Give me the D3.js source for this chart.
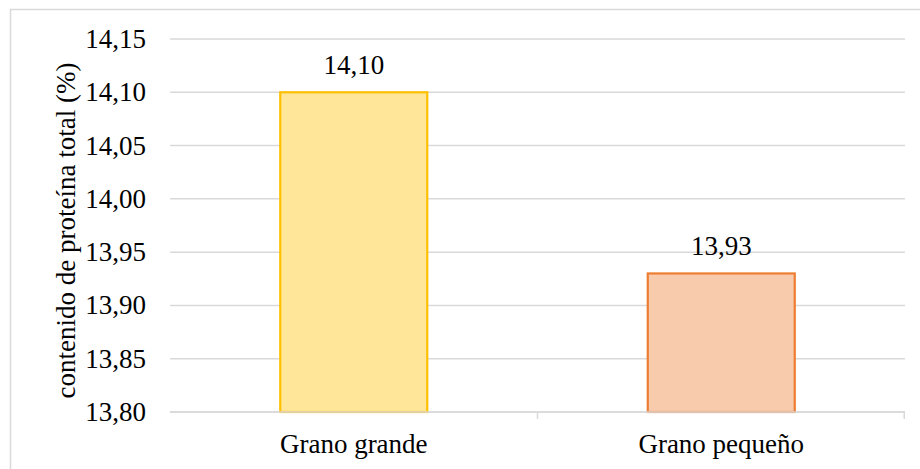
<!DOCTYPE html>
<html>
<head>
<meta charset="utf-8">
<script src="https://cdn.jsdelivr.net/npm/d3@7"></script>
<style>
  html, body { margin: 0; padding: 0; background: #ffffff; }
  svg { display: block; }
  text { font-family: "Liberation Serif", "Times New Roman", serif; fill: #000; }
</style>
</head>
<body>
<svg id="chart" width="920" height="469"></svg>
<script>
// Protein content by grain size
const categories = ["Grano grande", "Grano pequeño"];
const values = [14.10, 13.93];
const tickValues = [13.80, 13.85, 13.90, 13.95, 14.00, 14.05, 14.10, 14.15];
const fills = ["#FFE699", "#F8CBAD"];
const strokes = ["#FFC000", "#ED7D31"];
const yTitle = "contenido de proteína total (%)";

const W = 920, H = 469;
const plot = { left: 170, right: 905, top: 39, bottom: 412 };
const serif = '"Liberation Serif", "Times New Roman", serif';

const svg = d3.select("#chart");
const locale = d3.formatLocale({ decimal: ",", thousands: ".", grouping: [3], currency: ["", ""] });
const fmt = locale.format(".2f");

// outer chart frame
svg.append("rect")
  .attr("x", 10.5).attr("y", 9.5)
  .attr("width", W + 10).attr("height", H + 10)
  .attr("fill", "none").attr("stroke", "#D9D9D9").attr("stroke-width", 1.5);

const x = d3.scaleBand()
  .domain(categories)
  .range([plot.left, plot.right])
  .paddingInner(0.6)
  .paddingOuter(0.3);

const y = d3.scaleLinear()
  .domain([13.80, 14.15])
  .range([plot.bottom, plot.top]);

// horizontal gridlines
svg.append("g")
  .selectAll("line")
  .data(tickValues)
  .join("line")
  .attr("x1", plot.left).attr("x2", plot.right)
  .attr("y1", d => y(d)).attr("y2", d => y(d))
  .attr("stroke", "#D9D9D9").attr("stroke-width", 1.5);

// y tick labels
svg.append("g")
  .selectAll("text")
  .data(tickValues)
  .join("text")
  .attr("x", 146)
  .attr("y", d => y(d) + 9)
  .attr("text-anchor", "end")
  .attr("font-family", serif)
  .attr("font-size", 27)
  .text(d => fmt(d));

// bars
svg.append("g")
  .selectAll("rect")
  .data(values)
  .join("rect")
  .attr("x", (d, i) => x(categories[i]))
  .attr("y", d => y(d))
  .attr("width", x.bandwidth())
  .attr("height", d => y(13.80) - y(d))
  .attr("fill", (d, i) => fills[i])
  .attr("stroke", (d, i) => strokes[i])
  .attr("stroke-width", 2.2);

// category axis line and tick marks at band boundaries
svg.append("line")
  .attr("x1", plot.left).attr("x2", plot.right)
  .attr("y1", y(13.80)).attr("y2", y(13.80))
  .attr("stroke", "#D9D9D9").attr("stroke-width", 1.5);

const step = x.step();
const boundaries = categories.map(c => x(c) + x.bandwidth() + x.paddingInner() * step / 2);
svg.append("g")
  .selectAll("line")
  .data(boundaries)
  .join("line")
  .attr("x1", d => Math.min(d, plot.right - 0.75)).attr("x2", d => Math.min(d, plot.right - 0.75))
  .attr("y1", y(13.80)).attr("y2", y(13.80) + 7)
  .attr("stroke", "#D9D9D9").attr("stroke-width", 1.5);

// category labels
svg.append("g")
  .selectAll("text")
  .data(categories)
  .join("text")
  .attr("x", d => x(d) + x.bandwidth() / 2)
  .attr("y", 453)
  .attr("text-anchor", "middle")
  .attr("font-family", serif)
  .attr("font-size", 27)
  .text(d => d);

// value labels
svg.append("g")
  .selectAll("text")
  .data(values)
  .join("text")
  .attr("x", (d, i) => x(categories[i]) + x.bandwidth() / 2)
  .attr("y", d => y(d) - 18)
  .attr("text-anchor", "middle")
  .attr("font-family", serif)
  .attr("font-size", 27)
  .text(d => fmt(d));

// y axis title
svg.append("text")
  .attr("transform", `translate(75, ${(plot.top + plot.bottom) / 2 + 5}) rotate(-90)`)
  .attr("text-anchor", "middle")
  .attr("font-family", serif)
  .attr("font-size", 27)
  .text(yTitle);
</script>
</body>
</html>
